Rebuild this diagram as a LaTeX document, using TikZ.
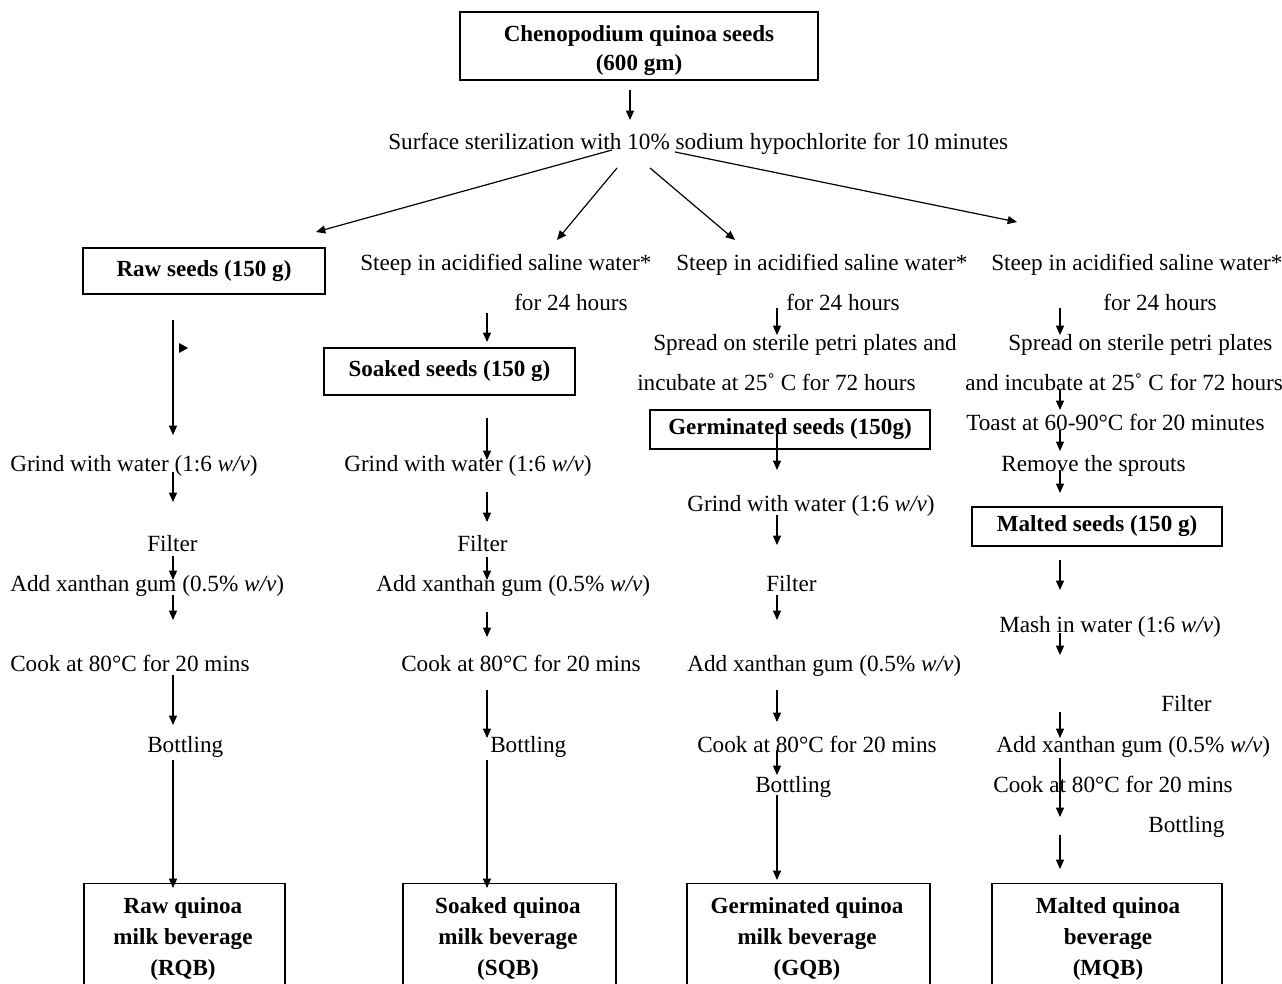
\documentclass[tikz,border=0pt]{standalone}
\usepackage{fontspec}
\setmainfont{Liberation Serif}
\usetikzlibrary{arrows.meta}
\newlength\pu \setlength\pu{0.75pt}
\begin{document}
\begin{tikzpicture}[x=0.75pt,y=-0.75pt,
  txt/.style={font=\fontsize{17.4}{22}\selectfont, inner sep=0pt, anchor=base west, yshift=-1.1pt},
  btxt/.style={font=\bfseries\fontsize{17.3}{23.2}\selectfont, inner sep=0pt, align=center},
  box/.style={draw, line width=1pt, inner sep=0pt},
  arr/.style={-{Triangle[length=7pt,width=6pt]}, line width=0.9pt}]
\clip (0,0) rectangle (1282,984);
% top
\node[box, minimum width=358\pu, minimum height=68\pu] (top) at (639,46) {};
\node[btxt, font=\bfseries\fontsize{17.3}{21.8}\selectfont] (topt) at (639,51) {Chenopodium quinoa seeds\\(600 gm)};
\draw[arr] (630,90) -- (630,120);
\node[txt] (ster) at (388,148) {Surface sterilization with 10\% sodium hypochlorite for 10 minutes};
\draw[arr] (612,150) -- (316,232);
\draw[arr] (617,168) -- (557,240);
\draw[arr] (650,168) -- (735,240);
\draw[arr] (675,152) -- (1017,222);

% column 1: raw
\node[box, btxt, minimum width=242\pu, minimum height=46\pu] (raw) at (204,271) {Raw seeds (150 g)};
\draw[arr] (173,320) -- (173,435);
\fill (179,343) -- (188,348) -- (179,353) -- cycle;
\node[txt] (g1) at (10,470) {Grind with water (1:6 \textit{w/v})};
\draw[arr] (173,472) -- (173,502);
\node[txt] (f1) at (147,550) {Filter};
\draw[arr] (173,556) -- (173,580);
\node[txt] (x1) at (10,590) {Add xanthan gum (0.5\% \textit{w/v})};
\draw[arr] (173,595) -- (173,620);
\node[txt] (c1) at (10,670) {Cook at 80°C for 20 mins};
\draw[arr] (173,675) -- (173,725);
\node[txt] (b1) at (147,751) {Bottling};
\draw[arr] (173,760) -- (173,888);
\node[box, minimum width=201\pu, minimum height=140\pu, anchor=north] (rqb) at (184.5,883) {};
\node[btxt] (rqbt) at (183,939) {Raw quinoa\\milk beverage\\(RQB)};

% column 2: soaked
\node[txt] (s2) at (360,269) {Steep in acidified saline water*};
\node[txt] (h2) at (514,309) {for 24 hours};
\draw[arr] (487,313) -- (487,342);
\node[box, btxt, minimum width=251\pu, minimum height=47\pu] (soak) at (449.5,371.5) {Soaked seeds (150 g)};
\draw[arr] (487,418) -- (487,460);
\node[txt] (g2) at (344,470) {Grind with water (1:6 \textit{w/v})};
\draw[arr] (487,492) -- (487,522);
\node[txt] (f2) at (457,550) {Filter};
\draw[arr] (487,557) -- (487,580);
\node[txt] (x2) at (376,590) {Add xanthan gum (0.5\% \textit{w/v})};
\draw[arr] (487,612) -- (487,637);
\node[txt] (c2) at (401,670) {Cook at 80°C for 20 mins};
\draw[arr] (487,690) -- (487,738);
\node[txt] (b2) at (490,751) {Bottling};
\draw[arr] (487,760) -- (487,888);
\node[box, minimum width=213\pu, minimum height=140\pu, anchor=north] (sqb) at (509.5,883) {};
\node[btxt] (sqbt) at (508,939) {Soaked quinoa\\milk beverage\\(SQB)};

% column 3: germinated
\node[txt] (s3) at (676,269) {Steep in acidified saline water*};
\node[txt] (h3) at (786,309) {for 24 hours};
\draw[arr] (777,308) -- (777,335);
\node[txt] (p3) at (653,349) {Spread on sterile petri plates and};
\node[txt] (i3) at (637,389) {incubate at 25˚ C for 72 hours};
\node[box, btxt, minimum width=280\pu, minimum height=39\pu] (germ) at (790,429.5) {Germinated seeds (150g)};
\draw[arr] (777,433) -- (777,470);
\node[txt] (g3) at (687,510) {Grind with water (1:6 \textit{w/v})};
\draw[arr] (777,515) -- (777,545);
\node[txt] (f3) at (766,590) {Filter};
\draw[arr] (777,595) -- (777,620);
\node[txt] (x3) at (687,670) {Add xanthan gum (0.5\% \textit{w/v})};
\draw[arr] (777,690) -- (777,722);
\node[txt] (c3) at (697,751) {Cook at 80°C for 20 mins};
\draw[arr] (777,750) -- (777,775);
\node[txt] (b3) at (755,791) {Bottling};
\draw[arr] (777,795) -- (777,880);
\node[box, minimum width=243\pu, minimum height=140\pu, anchor=north] (gqb) at (808.5,883) {};
\node[btxt] (gqbt) at (807,939) {Germinated quinoa\\milk beverage\\(GQB)};

% column 4: malted
\node[txt] (s4) at (991,269) {Steep in acidified saline water*};
\node[txt] (h4) at (1103,309) {for 24 hours};
\draw[arr] (1060,308) -- (1060,335);
\node[txt] (p4) at (1008,349) {Spread on sterile petri plates};
\node[txt] (i4) at (965,389) {and incubate at 25˚ C for 72 hours};
\draw[arr] (1060,390) -- (1060,410);
\node[txt] (t4) at (966,429) {Toast at 60-90°C for 20 minutes};
\draw[arr] (1060,430) -- (1060,451);
\node[txt] (r4) at (1001,470) {Remove the sprouts};
\draw[arr] (1060,470) -- (1060,493);
\node[box, btxt, minimum width=250\pu, minimum height=39\pu] (malt) at (1097,526.5) {Malted seeds (150 g)};
\draw[arr] (1060,560) -- (1060,590);
\node[txt] (m4) at (999,631) {Mash in water (1:6 \textit{w/v})};
\draw[arr] (1060,633) -- (1060,655);
\node[txt] (f4) at (1161,710) {Filter};
\draw[arr] (1060,712) -- (1060,738);
\node[txt] (x4) at (996,751) {Add xanthan gum (0.5\% \textit{w/v})};
\draw[arr] (1060,758) -- (1060,817);
\node[txt] (c4) at (993,791) {Cook at 80°C for 20 mins};
\node[txt] (b4) at (1148,831) {Bottling};
\draw[arr] (1060,835) -- (1060,869);
\node[box, minimum width=230\pu, minimum height=140\pu, anchor=north] (mqb) at (1107,883) {};
\node[btxt] (mqbt) at (1108,939) {Malted quinoa\\beverage\\(MQB)};
\end{tikzpicture}
\end{document}
